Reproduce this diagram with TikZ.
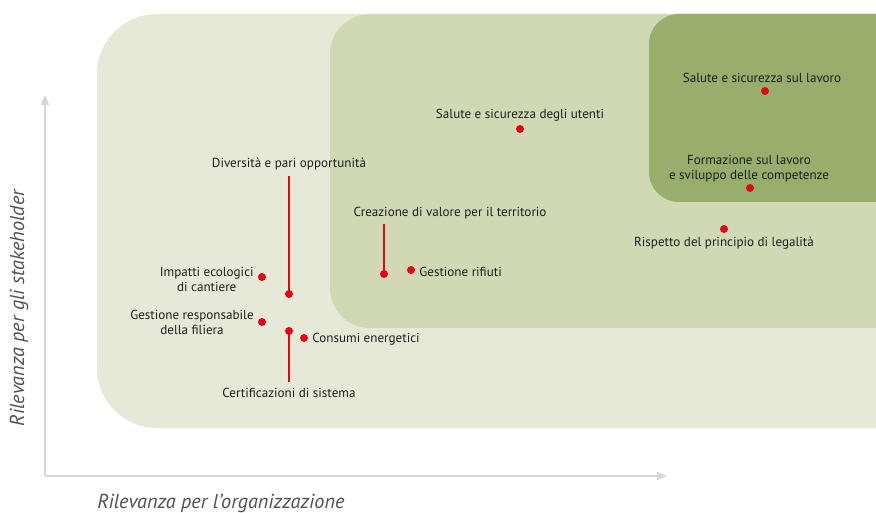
\documentclass[tikz,border=0pt]{standalone}
\usepackage{fontspec}
\setmainfont{PT Sans}
\usepackage{xcolor}
\usetikzlibrary{arrows.meta}
\definecolor{outerbg}{HTML}{E6E9D8}
\definecolor{midbg}{HTML}{D0D9B4}
\definecolor{innerbg}{HTML}{97AE6D}
\definecolor{dotred}{HTML}{E30613}
\definecolor{axisgray}{HTML}{D6D6D6}
\definecolor{txtgray}{HTML}{1E1E1E}
\definecolor{axtxt}{HTML}{505050}

\begin{document}
\begin{tikzpicture}[x=0.02cm,y=-0.02cm,
    dot/.style={circle,fill=dotred,inner sep=0pt,minimum size=0.16cm},
    lbl/.style={font=\fontsize{7.45}{8.6}\selectfont,text=txtgray,inner sep=0pt,align=center,yshift=-0.03cm},
    lead/.style={draw=dotred,line width=0.6pt},
    axis/.style={draw=axisgray,line width=0.8pt,-{Triangle[length=0.2cm,width=0.16cm]}},
    axlabel/.style={font=\fontsize{11.5}{13}\selectfont\itshape,text=axtxt,inner sep=0pt}]
  \useasboundingbox (0,0) rectangle (876,513);

  % Areas
  \begin{scope}
    \clip (0,0) rectangle (876,513);
    \fill[outerbg,rounded corners=0.04cm*30] (97,14) rectangle (960,428);
    \fill[midbg,rounded corners=0.04cm*20] (330,14) rectangle (960,328);
    \fill[innerbg,rounded corners=0.04cm*15] (649,14) rectangle (960,202);
  \end{scope}

  % Axes
  \coordinate (O) at (45,476);
  \coordinate (Ytop) at (45,95);
  \coordinate (Xend) at (667,476);
  \draw[axis] (O) -- (Ytop);
  \draw[axis] (O) -- (Xend);
  \node[axlabel,rotate=90] (ylab) at (19,308) {Rilevanza per gli stakeholder};
  \node[axlabel,anchor=west] (xlab) at (97,503) {Rilevanza per l’organizzazione};

  % Nodes
    % top right
    \node (ssl) at (765,91) [dot] {};
    \node (ssllbl) at (762,76) [lbl] {Salute e sicurezza sul lavoro};
    \node (form) at (750,188) [dot] {};
    \node (formlbl) at (749,167) [lbl] {Formazione sul lavoro\\e sviluppo delle competenze};
    \node (risp) at (724,229) [dot] {};
    \node (risplbl) at (724,242) [lbl] {Rispetto del principio di legalità};
    \node (ssu) at (520,129) [dot] {};
    \node (ssulbl) at (520,114) [lbl] {Salute e sicurezza degli utenti};

    % middle
    \node (crea) at (384,274) [dot] {};
    \node (crealbl) at (450,212) [lbl] {Creazione di valore per il territorio};
    \node (rif) at (411,270) [dot] {};
    \node (riflbl) at (419,270) [lbl,anchor=west] {Gestione rifiuti};

    % left
    \node (div) at (289,294) [dot] {};
    \node (divlbl) at (289,163) [lbl] {Diversità e pari opportunità};
    \node (imp) at (262,277) [dot] {};
    \node (implbl) at (254,278) [lbl,anchor=east] {Impatti ecologici\\di cantiere};
    \node (fil) at (262,322) [dot] {};
    \node (fillbl) at (254,321) [lbl,anchor=east] {Gestione responsabile\\della filiera};
    \node (cert) at (289,331) [dot] {};
    \node (certlbl) at (289,391) [lbl] {Certificazioni di sistema};
    \node (cons) at (304,338) [dot] {};
    \node (conslbl) at (312,338) [lbl,anchor=west] {Consumi energetici};

  % Edges
    \draw[lead] (divlbl.south) ++(0,5) -- (div.center);
    \draw[lead] (crea |- crealbl.south) ++(0,4) -- (crea.center);
    \draw[lead] (cert.center) -- ([yshift=0.02cm*5]certlbl.north);
\end{tikzpicture}
\end{document}
